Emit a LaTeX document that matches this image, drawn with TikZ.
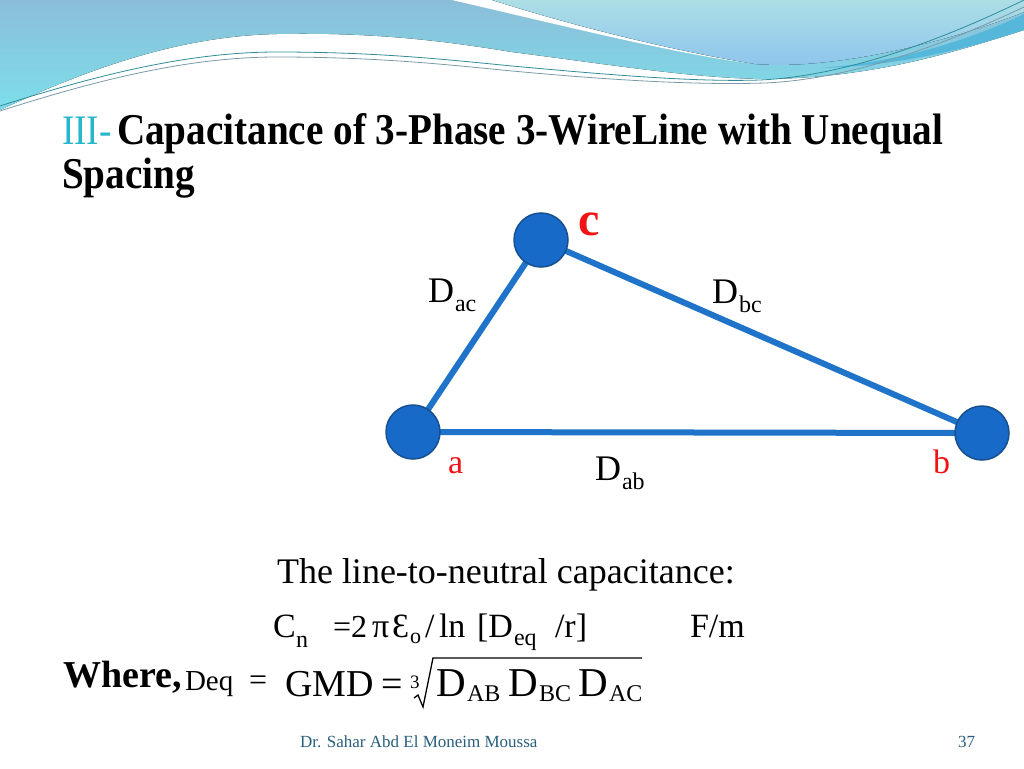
\documentclass[tikz,border=0pt]{standalone}
\usepackage{fontspec}
\setmainfont{Liberation Serif}
\newfontfamily\titlefont[FakeStretch=0.89]{Liberation Serif}
\pgfdeclarelayer{deco}
\pgfdeclarelayer{edges}
\pgfsetlayers{deco,edges,main}
\newcommand\fsz[1]{\fontsize{#1}{#1}\selectfont}
\definecolor{bluetop}{RGB}{139,190,216}
\definecolor{cyanbot}{RGB}{125,222,234}
\definecolor{lenstop}{RGB}{172,222,230}
\definecolor{lensbot}{RGB}{140,196,236}
\definecolor{bandcol}{RGB}{85,184,218}
\definecolor{tealline}{RGB}{47,141,153}
\definecolor{greyline}{RGB}{122,154,168}
\definecolor{nodeblue}{RGB}{24,106,200}
\definecolor{nodeedge}{RGB}{23,79,143}
\definecolor{wireblue}{RGB}{31,115,200}
\definecolor{labelred}{RGB}{240,20,20}
\definecolor{titlecyan}{RGB}{38,183,205}
\definecolor{footcol}{RGB}{40,95,125}
\begin{document}
\begin{tikzpicture}[x=1pt,y=-1pt,
  txt/.style={anchor=base west, inner sep=0pt, outer sep=0pt},
  phase/.style={circle, minimum size=54pt, inner sep=0pt, fill=nodeblue, draw=nodeedge, line width=1.5pt},
  wire/.style={draw=wireblue, line width=6pt},
  lbl/.style={txt, text=labelred}]
\useasboundingbox (0,0) rectangle (1024,768);
\begin{pgfonlayer}{deco}
\fill[white] (0,0) rectangle (1024,768);
\fill[top color=bluetop, bottom color=cyanbot] (0,0) -- (0,110) .. controls (90,68) and (180,36) .. (277,34) .. controls (380,32) and (450,42) .. (512,52) .. controls (620,66) and (700,79) .. (770,79) .. controls (880,77) and (960,50) .. (1024,30) -- (1024,0) -- cycle;
\fill[white] (452,0) .. controls (560,25) and (680,55) .. (755,64) .. controls (680,52) and (580,28) .. (492,0) -- cycle;
\fill[top color=lenstop, bottom color=lensbot] (492,0) .. controls (580,28) and (680,52) .. (755,64) .. controls (830,70) and (940,45) .. (1024,12) -- (1024,0) -- cycle;
\fill[bandcol] (820,68) .. controls (900,62) and (970,40) .. (1024,14) -- (1024,30) .. controls (970,48) and (900,66) .. (820,68) -- cycle;
\draw[tealline, line width=0.8pt] (0,106) .. controls (100,74) and (190,52) .. (277,52) .. controls (380,52) and (450,60) .. (512,66) .. controls (620,76) and (700,82) .. (760,80) .. controls (850,76) and (950,36) .. (1024,0);
\draw[greyline, line width=0.8pt] (0,111) .. controls (100,79) and (190,57) .. (277,57) .. controls (380,57) and (450,65) .. (512,71) .. controls (620,81) and (700,85) .. (765,83) .. controls (855,79) and (950,42) .. (1024,7);
\end{pgfonlayer}
% title
\node[txt, text=titlecyan] (t0) at (62,144) {\titlefont\fsz{42}III-};
\node[txt] (t1) at (117,144) {\titlefont\fsz{44}\bfseries Capacitance of 3-Phase 3-WireLine with Unequal};
\node[txt] (t2) at (62,188) {\titlefont\fsz{44}\bfseries Spacing};
% conductors
\node[phase] (a) at (413,432) {};
\node[phase] (b) at (982,433) {};
\node[phase] (c) at (541,240) {};
\begin{pgfonlayer}{edges}
\draw[wire] (a.center) -- (b.center);
\draw[wire] (a.center) -- (c.center);
\draw[wire] (c.center) -- (b.center);
\end{pgfonlayer}
\node[lbl] (la) at (448,473) {\fsz{34}a};
\node[lbl] (lb) at (933,473) {\fsz{34}b};
\node[lbl] (lc) at (578,235) {\fsz{48}\bfseries c};
\node[txt] (dac) at (428,302) {\fsz{36}D};
\node[txt] (dacs) at (455,311) {\fsz{24}ac};
\node[txt] (dbc) at (712,303) {\fsz{36}D};
\node[txt] (dbcs) at (739,312) {\fsz{24}bc};
\node[txt] (dab) at (595,480) {\fsz{36}D};
\node[txt] (dabs) at (622,489) {\fsz{24}ab};
% formula text
\node[txt] (l1) at (277,583) {\fsz{36}The line-to-neutral capacitance:};
\node[txt] (cn) at (273,637) {\fsz{34}C};
\node[txt] (cns) at (296,647) {\fsz{24}n};
\node[txt] (eq2) at (333,637) {\fsz{32}=2};
\node[txt] (pi) at (372,637) {\fsz{34}π};
\node[txt] (eps) at (392,637) {\fsz{34}Ɛ};
\node[txt] (epss) at (410,643) {\fsz{22}o};
\node[txt] (sl) at (425,637) {\fsz{34}/};
\node[txt] (ln) at (439,637) {\fsz{34}ln};
\node[txt] (bd) at (477,637) {\fsz{34}[D};
\node[txt] (bds) at (514,645) {\fsz{24}eq};
\node[txt] (rb) at (555,637) {\fsz{34}/r]};
\node[txt] (fm) at (690,637) {\fsz{34}F/m};
\node[txt] (wh) at (63,687) {\fsz{38}\bfseries Where,};
\node[txt] (deq) at (185,690) {\fsz{29}Deq};
\node[txt] (e1) at (249,690) {\fsz{32}=};
\node[txt] (gmd) at (285,696) {\fsz{38}GMD};
\node[txt] (e2) at (381,696) {\fsz{38}=};
\node[txt] (idx) at (410,688) {\fsz{19}3};
\coordinate (r0) at (414,698);
\coordinate (r1) at (418,695);
\coordinate (r2) at (423,707);
\coordinate (r3) at (433,658);
\coordinate (r4) at (642,658);
\draw[line width=1.3pt, line join=miter] (r0) -- (r1) -- (r2) -- (r3) -- (r4);
\node[txt] (d1) at (436,696) {\fsz{41}D};
\node[txt] (d1s) at (467,701) {\fsz{24}AB};
\node[txt] (d2) at (508,696) {\fsz{41}D};
\node[txt] (d2s) at (539,701) {\fsz{24}BC};
\node[txt] (d3) at (578,696) {\fsz{41}D};
\node[txt] (d3s) at (609,701) {\fsz{24}AC};
% footer
\node[txt, text=footcol] (ft) at (300,747) {\fsz{17}Dr. Sahar Abd El Moneim Moussa};
\node[txt, text=footcol] (pg) at (958,747) {\fsz{17}37};
\end{tikzpicture}
\end{document}
